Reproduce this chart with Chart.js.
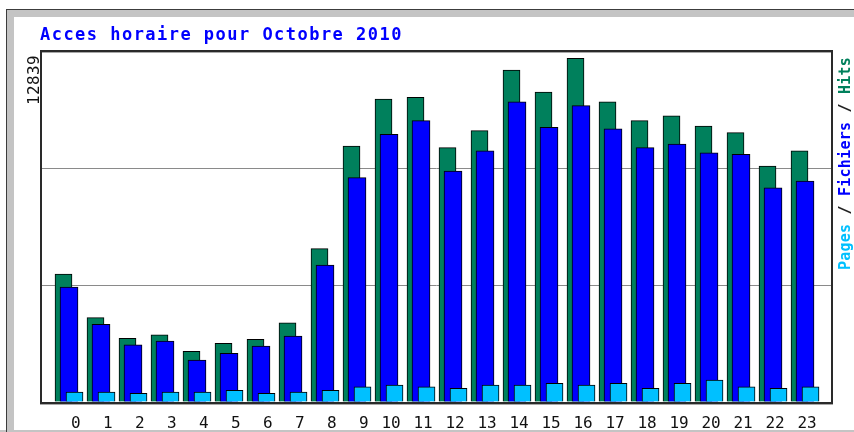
<!DOCTYPE html>
<html>
<head>
<meta charset="utf-8">
<script src="https://cdn.jsdelivr.net/npm/chart.js@4/dist/chart.umd.min.js"></script>
<style>
  html, body { margin: 0; padding: 0; background: #fff; }
  canvas { display: block; }
</style>
</head>
<body>
<canvas id="graficaHoraire" width="854" height="432"></canvas>
<script>
const titre = 'Acces horaire pour Octobre 2010';
const heures = [0, 1, 2, 3, 4, 5, 6, 7, 8, 9, 10, 11, 12, 13, 14, 15, 16, 17, 18, 19, 20, 21, 22, 23];
const hits = [4780, 3150, 2380, 2510, 1890, 2190, 2340, 2960, 5730, 9560, 11320, 11380,
              9500, 10140, 12400, 11580, 12839, 11210, 10510, 10690, 10310, 10060, 8810, 9380];
const fichiers = [4290, 2900, 2140, 2280, 1570, 1820, 2090, 2460, 5110, 8380, 10000, 10510,
                  8630, 9380, 11210, 10260, 11070, 10200, 9500, 9630, 9310, 9250, 8000, 8250];
const pages = [370, 370, 325, 370, 370, 440, 325, 370, 440, 570, 635, 570,
               510, 635, 635, 700, 635, 700, 510, 700, 820, 570, 510, 570];
const maxLabel = '12839';
const legende = [
    { text: 'Pages', color: '#00c0ff' },
    { text: ' / ', color: '#222' },
    { text: 'Fichiers', color: '#0000ff' },
    { text: ' / ', color: '#222' },
    { text: 'Hits', color: '#00805c' }
];

const couleurHits = '#00805c';
const couleurFichiers = '#0000ff';
const couleurPages = '#00c0ff';
const yMax = 13074;
const largeur = 24.656;   // hours visible across the plot

function axeHeure(min, show) {
    return {
        type: 'linear',
        display: show,
        min: min,
        max: min + largeur,
        offset: false,
        grid: { display: false, offset: false },
        border: { display: false },
        afterBuildTicks: s => { s.ticks = heures.map(h => ({ value: h })); },
        afterFit: s => { s.height = show ? 30 : 0; },
        ticks: {
            color: '#111',
            padding: 4,
            labelOffset: 2,
            autoSkip: false,
            maxRotation: 0,
            font: { family: 'DejaVu Sans Mono', size: 16 },
            callback: v => (v < 10 ? ' ' + v : '' + v)
        }
    };
}

function texteEspace(ctx, text, x, y, spacing) {
    ctx.letterSpacing = spacing + 'px';
    ctx.fillText(text, x, y);
    const w = ctx.measureText(text).width;
    ctx.letterSpacing = '0px';
    return w;
}

const cadre = {
    id: 'cadre',
    beforeDraw(chart) {
        const ctx = chart.ctx;
        ctx.save();
        ctx.fillStyle = '#fff';
        ctx.fillRect(0, 0, chart.width, chart.height);
        // outer bevel
        ctx.fillStyle = '#c4c4c4';
        ctx.fillRect(6, 9, 8, chart.height);
        ctx.fillRect(6, 9, chart.width, 8);
        ctx.fillRect(0, 430, chart.width, 2);
        ctx.fillStyle = '#3c3c3c';
        ctx.fillRect(6, 9, 1, chart.height);
        ctx.fillRect(6, 9, chart.width, 1);
        ctx.restore();
    },
    afterDraw(chart) {
        const ctx = chart.ctx;
        const a = chart.chartArea;
        ctx.save();
        // plot frame
        ctx.fillStyle = '#a8a8a8';
        ctx.fillRect(a.left, a.top, a.right - a.left, 1);
        ctx.fillRect(a.left - 2, a.bottom + 2, a.right - a.left + 4, 1);
        ctx.fillStyle = '#2a2a2a';
        ctx.fillRect(a.left - 2, a.top - 2, a.right - a.left + 4, 2);
        ctx.fillRect(a.left - 2, a.top - 2, 2, a.bottom - a.top + 4);
        ctx.fillRect(a.right, a.top - 2, 2, a.bottom - a.top + 4);
        ctx.fillRect(a.left - 2, a.bottom, a.right - a.left + 4, 2);

        // title
        ctx.fillStyle = '#0000ff';
        ctx.font = 'bold 17px "DejaVu Sans Mono"';
        ctx.textBaseline = 'alphabetic';
        ctx.textAlign = 'left';
        texteEspace(ctx, titre, 40, 40, 1.47);

        // max value, vertical
        ctx.save();
        ctx.translate(a.left - 3, a.top + 53);
        ctx.rotate(-Math.PI / 2);
        ctx.fillStyle = '#111';
        ctx.font = '16px "DejaVu Sans Mono"';
        texteEspace(ctx, maxLabel, 0, 0, 0.37);
        ctx.restore();

        // legend, vertical on the right
        ctx.save();
        ctx.translate(850, 270);
        ctx.rotate(-Math.PI / 2);
        ctx.font = 'bold 15px "DejaVu Sans Mono"';
        let x = 0;
        legende.forEach(part => {
            ctx.fillStyle = part.color;
            x += texteEspace(ctx, part.text, x, 0, 0.23);
        });
        ctx.restore();
        ctx.restore();
    }
};

const graficaCtx = document.getElementById('graficaHoraire').getContext('2d');

new Chart(graficaCtx, {
    type: 'bar',
    data: {
        labels: heures,
        datasets: [
            {
                label: 'Hits',
                data: hits,
                xAxisID: 'xh',
                order: 3,
                backgroundColor: couleurHits,
                borderColor: '#000',
                borderWidth: 1,
                barThickness: 17
            },
            {
                label: 'Fichiers',
                data: fichiers,
                xAxisID: 'x',
                order: 2,
                backgroundColor: couleurFichiers,
                borderColor: '#000',
                borderWidth: 1,
                barThickness: 18
            },
            {
                label: 'Pages',
                data: pages,
                xAxisID: 'xp',
                order: 1,
                backgroundColor: couleurPages,
                borderColor: '#000',
                borderWidth: 1,
                barThickness: 17
            }
        ]
    },
    options: {
        responsive: false,
        animation: false,
        devicePixelRatio: 1,
        grouped: false,
        layout: { padding: { top: 52, right: 23, bottom: 0, left: 0 } },
        plugins: {
            legend: { display: false },
            title: { display: false },
            tooltip: { enabled: false }
        },
        scales: {
            x: axeHeure(-0.844, true),
            xh: axeHeure(-0.672, false),
            xp: axeHeure(-1.016, false),
            y: {
                min: 0,
                max: yMax,
                afterBuildTicks: s => { s.ticks = [0, 1, 2, 3].map(i => ({ value: yMax * i / 3 })); },
                afterFit: s => { s.width = 42; },
                border: { display: false },
                ticks: { display: false },
                grid: {
                    drawTicks: false,
                    color: ctx => (ctx.index === 1 || ctx.index === 2) ? '#8a8a8a' : 'rgba(0,0,0,0)',
                    lineWidth: 1
                }
            }
        }
    },
    plugins: [cadre]
});
</script>
</body>
</html>
